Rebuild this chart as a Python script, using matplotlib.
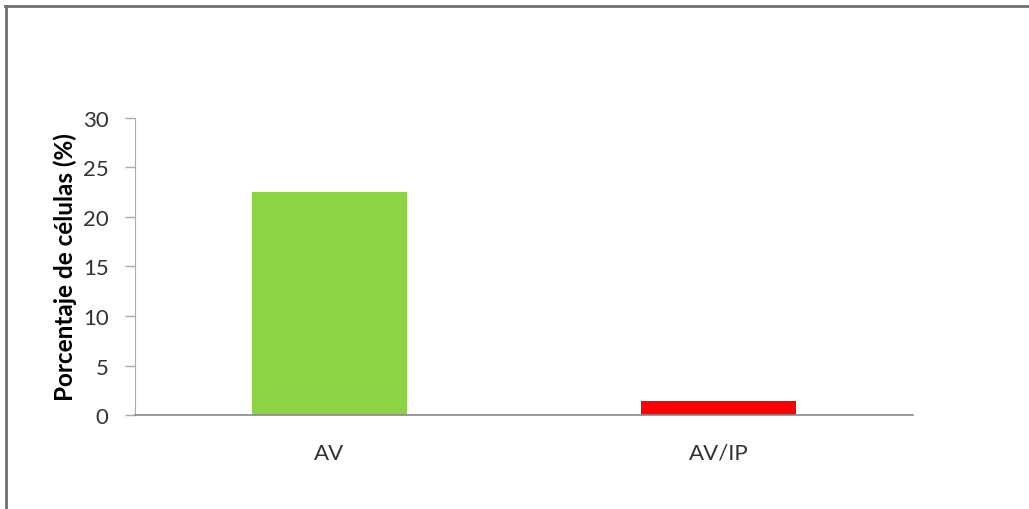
import matplotlib.pyplot as plt
from matplotlib.lines import Line2D

# Datos
categorias = ['AV', 'AV/IP']
porcentajes = [22.5, 1.4]
colores = ['#8CD444', '#FF0000']
ticks_y = [0, 5, 10, 15, 20, 25, 30]

plt.rcParams['font.family'] = ['Lato', 'DejaVu Sans']

fig = plt.figure(figsize=(10.29, 5.10), dpi=100)
ax = fig.add_axes([0.1312, 0.1843, 0.7561, 0.5824])

x = range(len(categorias))
ax.bar(x, porcentajes, width=0.40, color=colores, zorder=2)

ax.set_xlim(-0.5, 1.5)
ax.set_ylim(0, 30)
ax.set_yticks(ticks_y)
ax.set_xticks(list(x))
ax.set_xticklabels(categorias, fontsize=16, color='#333333')
ax.tick_params(axis='y', labelsize=16, labelcolor='#333333', length=7,
               width=1, direction='out', pad=12, color='#aaaaaa')
ax.tick_params(axis='x', length=0, pad=20)
ax.set_ylabel('Porcentaje de células (%)', fontsize=17.5, fontweight='bold',
              labelpad=4)

for lado in ['top', 'right']:
    ax.spines[lado].set_visible(False)
ax.spines['left'].set_color('#aaaaaa')
ax.spines['bottom'].set_color('#888888')
ax.spines['bottom'].set_linewidth(1.2)

# marco exterior (solo superior e izquierdo)
fig.add_artist(Line2D([0.005, 1.0], [0.987, 0.987], color='#707070', lw=2,
                      transform=fig.transFigure))
fig.add_artist(Line2D([0.006, 0.006], [0.0, 0.987], color='#707070', lw=2,
                      transform=fig.transFigure))

fig.savefig('out.png', dpi=100)
